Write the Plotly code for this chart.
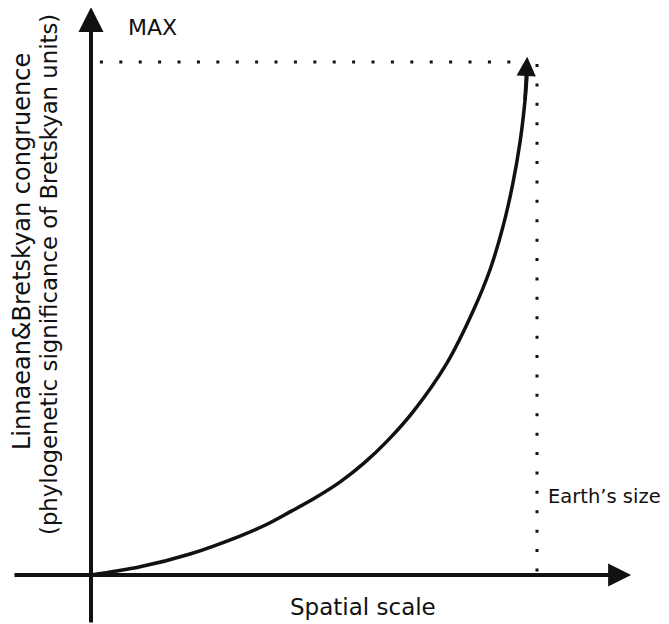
import plotly.graph_objects as go

# Conceptual curve: congruence vs spatial scale (normalised units: Earth's size = 1, MAX = 1)
curve_x = [0.0, 0.110, 0.222, 0.334, 0.390, 0.446, 0.502, 0.558, 0.612, 0.664, 0.722,
           0.798, 0.857, 0.895, 0.924, 0.946, 0.962, 0.973, 0.978]
curve_y = [0.0, 0.016, 0.041, 0.076, 0.097, 0.123, 0.150, 0.181, 0.218, 0.261, 0.318,
           0.413, 0.515, 0.596, 0.680, 0.764, 0.844, 0.924, 0.979]
curve_tip = (0.978, 1.010)

max_level = 1.0
earth_size = 1.0
dot_h_x = [0.02, 0.98]
dot_v_y = [0.996, 0.006]

x_axis_ext = (-0.175, 1.211)
y_axis_ext = (-0.0955, 1.107)

# page body has an 8px margin: figure is drawn from (8, 8) of the window
OFF = 8
W, H = 669 - OFF, 624 - OFF
X0, Y0 = 91 - OFF, 575 - OFF          # origin in figure pixels
SX, SY = 446, 513                     # pixels per unit
x_range = [-X0 / SX, (W - X0) / SX]
y_range = [(Y0 - H) / SY, Y0 / SY]

FONT = "DejaVu Sans"
INK = "#111111"

fig = go.Figure()

fig.add_trace(go.Scatter(x=curve_x, y=curve_y, mode="lines",
                         line=dict(color=INK, width=3.5, shape="spline", smoothing=1.0),
                         hoverinfo="skip", showlegend=False))

fig.add_trace(go.Scatter(x=dot_h_x, y=[max_level, max_level], mode="lines",
                         line=dict(color=INK, width=3, dash="3px,16.4px"),
                         hoverinfo="skip", showlegend=False))
fig.add_trace(go.Scatter(x=[earth_size, earth_size], y=dot_v_y, mode="lines",
                         line=dict(color=INK, width=3, dash="3px,16.4px"),
                         hoverinfo="skip", showlegend=False))


def label(px, py, text, size=22, angle=0, xanchor="center"):
    """Text positioned by reference-window pixel coordinates."""
    return dict(x=(px - OFF) / W, y=1 - (py - OFF) / H, xref="paper", yref="paper",
                text=text, showarrow=False, textangle=angle,
                xanchor=xanchor, yanchor="middle",
                font=dict(family=FONT, size=size, color=INK))


annotations = [
    # y axis
    dict(x=0, y=y_axis_ext[1], ax=0, ay=y_axis_ext[0], xref="x", yref="y",
         axref="x", ayref="y", showarrow=True, arrowhead=2, arrowwidth=4,
         arrowsize=1.25, arrowcolor=INK, text=""),
    # x axis
    dict(x=x_axis_ext[1], y=0, ax=x_axis_ext[0], ay=0, xref="x", yref="y",
         axref="x", ayref="y", showarrow=True, arrowhead=2, arrowwidth=4,
         arrowsize=1.15, arrowcolor=INK, text=""),
    # curve arrow head
    dict(x=curve_tip[0], y=curve_tip[1], ax=curve_x[-2], ay=curve_y[-2], xref="x", yref="y",
         axref="x", ayref="y", showarrow=True, arrowhead=2, arrowwidth=3.5,
         arrowsize=1.1, arrowcolor=INK, text=""),
    label(152, 28, "MAX"),
    label(546, 497, "Earth\u2019s size", size=19.5, xanchor="left"),
    label(363, 607, "Spatial scale", size=23),
    label(22, 252, "Linnaean&Bretskyan congruence", size=24, angle=-90),
    label(49, 275, "(phylogenetic significance of Bretskyan units)", size=22.8, angle=-90),
]

fig.update_layout(
    width=W, height=H,
    margin=dict(l=0, r=0, t=0, b=0),
    paper_bgcolor="white", plot_bgcolor="white",
    xaxis=dict(range=x_range, visible=False, fixedrange=True),
    yaxis=dict(range=y_range, visible=False, fixedrange=True),
    annotations=annotations,
    showlegend=False,
)

fig.write_html("out.html")
